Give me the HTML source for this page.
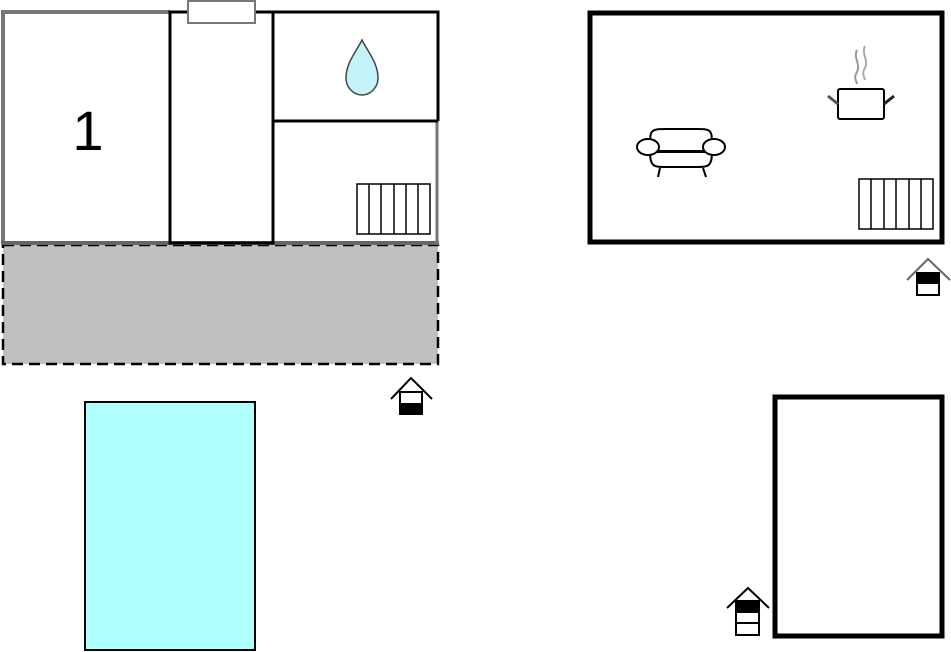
<!DOCTYPE html>
<html><head><style>body{margin:0;background:#fff}svg{display:block}</style></head><body>
<svg width="951" height="652" viewBox="0 0 951 652" xmlns="http://www.w3.org/2000/svg">
<!-- terrace -->
<rect x="3" y="245" width="435" height="119" fill="#c0c0c0" stroke="#000" stroke-width="2.5" stroke-dasharray="11,6"/>
<!-- left building -->
<rect x="3" y="12" width="435" height="231" fill="#fff" stroke="none"/>
<line x1="3" y1="12" x2="170" y2="12" stroke="#777" stroke-width="4"/>
<line x1="3" y1="10" x2="3" y2="245" stroke="#777" stroke-width="4"/>
<line x1="1" y1="243" x2="439" y2="243" stroke="#666" stroke-width="4"/>
<line x1="437" y1="121" x2="437" y2="245" stroke="#777" stroke-width="3"/>
<path d="M170 12 H438 V121" fill="none" stroke="#000" stroke-width="3"/>
<rect x="170" y="12" width="103" height="231" fill="none" stroke="#000" stroke-width="3"/>
<line x1="273" y1="121" x2="438" y2="121" stroke="#000" stroke-width="3"/>
<rect x="188" y="1" width="67" height="22" fill="#fff" stroke="#777" stroke-width="2"/>
<text x="88" y="150" font-family="Liberation Sans, sans-serif" font-size="56" text-anchor="middle">1</text>
<path d="M362 40 C356 52 346 63 346 78 C346 88 354 95 362 95 C370 95 378 88 378 78 C378 63 368 52 362 40 Z" fill="#c4f4fa" stroke="#444" stroke-width="1.5"/>
<g stroke="#000" stroke-width="1.5" fill="#fff">
<rect x="357" y="184" width="73" height="50"/>
<line x1="369" y1="184" x2="369" y2="234"/><line x1="381" y1="184" x2="381" y2="234"/><line x1="394" y1="184" x2="394" y2="234"/><line x1="406" y1="184" x2="406" y2="234"/><line x1="418" y1="184" x2="418" y2="234"/>
</g>
<!-- entrance 1 -->
<g stroke="#000" stroke-width="2" fill="none">
<path d="M391 399 L411 378 L432 399"/>
<rect x="400" y="392" width="22" height="22" fill="#fff"/>
<rect x="400" y="404" width="22" height="10" fill="#000"/>
</g>
<!-- pool -->
<rect x="85" y="402" width="170" height="248" fill="#b0ffff" stroke="#000" stroke-width="2"/>
<!-- right building -->
<rect x="590" y="13" width="352" height="229" fill="#fff" stroke="#000" stroke-width="5"/>
<g stroke="#000" stroke-width="2" fill="#fff">
<path d="M652 154 C648 130 650 129 666 129 L697 129 C712 129 714 130 710 154 Z"/>
<path d="M650 151 C650 168 654 167 670 167 L692 167 C708 167 712 168 712 151 Z"/>
<line x1="660" y1="168" x2="658" y2="177"/><line x1="703" y1="168" x2="706" y2="177"/>
<ellipse cx="648" cy="147" rx="11" ry="8"/><ellipse cx="714" cy="147" rx="11" ry="8"/>
<line x1="657" y1="152" x2="705" y2="152"/>
<rect x="838" y="89" width="46" height="30" rx="2"/>
</g>
<line x1="828" y1="96" x2="838" y2="104" stroke="#555" stroke-width="3"/>
<line x1="884" y1="104" x2="894" y2="96" stroke="#222" stroke-width="3"/>
<path d="M857 50 C853 58 861 64 857 72 C853 78 857 82 857 84" fill="none" stroke="#999" stroke-width="2"/>
<path d="M865 46 C861 54 869 60 865 68 C861 74 865 78 865 80" fill="none" stroke="#aaa" stroke-width="2"/>
<g stroke="#000" stroke-width="1.5" fill="#fff">
<rect x="859" y="179" width="74" height="50"/>
<line x1="871" y1="179" x2="871" y2="229"/><line x1="884" y1="179" x2="884" y2="229"/><line x1="896" y1="179" x2="896" y2="229"/><line x1="909" y1="179" x2="909" y2="229"/><line x1="921" y1="179" x2="921" y2="229"/>
</g>
<!-- entrance 2 -->
<path d="M907 280 L928 259 L950 280" fill="none" stroke="#666" stroke-width="2"/>
<rect x="917" y="273" width="22" height="22" fill="#fff" stroke="#000" stroke-width="2"/>
<rect x="917" y="273" width="22" height="11" fill="#000"/>
<!-- bottom right -->
<rect x="775" y="397" width="167" height="239" fill="#fff" stroke="#000" stroke-width="5"/>
<g stroke="#000" stroke-width="2" fill="none">
<path d="M727 608 L748 588 L769 608"/>
<rect x="736" y="601" width="23" height="34" fill="#fff"/>
<rect x="736" y="601" width="23" height="11" fill="#000"/>
<line x1="736" y1="623" x2="759" y2="623"/>
</g>
</svg>
</body></html>
